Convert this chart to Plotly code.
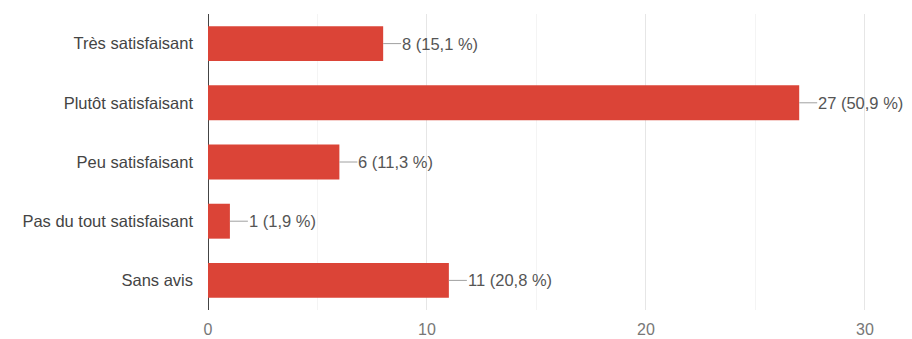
import plotly.graph_objects as go

categories = ["Très satisfaisant", "Plutôt satisfaisant", "Peu satisfaisant",
              "Pas du tout satisfaisant", "Sans avis"]
counts = [8, 27, 6, 1, 11]
percents = ["15,1 %", "50,9 %", "11,3 %", "1,9 %", "20,8 %"]
x_ticks = [0, 10, 20, 30]

BAR = "#DB4437"
FONT = "Liberation Sans, Arial, sans-serif"

fig = go.Figure()
fig.add_trace(go.Bar(
    x=counts, y=categories, orientation="h",
    marker=dict(color=BAR, line=dict(width=0)),
    hoverinfo="skip",
))

for c, v, p in zip(categories, counts, percents):
    fig.add_annotation(
        x=v, y=c, xref="x", yref="y",
        text=f"{v} ({p})",
        showarrow=True, arrowhead=0, arrowwidth=1, arrowcolor="#a0a0a0",
        ax=18, ay=0, xanchor="left", yanchor="middle",
        standoff=0, startstandoff=0, borderpad=0,
        font=dict(family=FONT, size=16.5, color="#555555"),
    )

# page body has an 8px margin: figure is sized/offset to compensate
fig.update_layout(
    width=904, height=331,
    margin=dict(l=200, r=46, t=6, b=29),
    paper_bgcolor="white", plot_bgcolor="white",
    bargap=0.41,
    showlegend=False,
    font=dict(family=FONT, size=17, color="#444444"),
    xaxis=dict(
        range=[0, 30.05], tickvals=x_ticks, ticktext=[str(t) for t in x_ticks],
        showgrid=True, gridcolor="#e6e6e6", gridwidth=1,
        minor=dict(dtick=5, showgrid=True, gridcolor="#f4f4f4", gridwidth=1),
        zeroline=True, zerolinecolor="#444444", zerolinewidth=1,
        showline=False, ticks="", automargin=False,
        ticklabelstandoff=8,
        tickfont=dict(family=FONT, size=16, color="#777777"),
        fixedrange=True,
    ),
    yaxis=dict(
        categoryorder="array", categoryarray=categories, autorange="reversed",
        showgrid=False, zeroline=False, showline=False, ticks="",
        ticklabelstandoff=14, automargin=False,
        tickfont=dict(family=FONT, size=16.5, color="#444444"),
        fixedrange=True,
    ),
)

fig.write_html("out.html")
